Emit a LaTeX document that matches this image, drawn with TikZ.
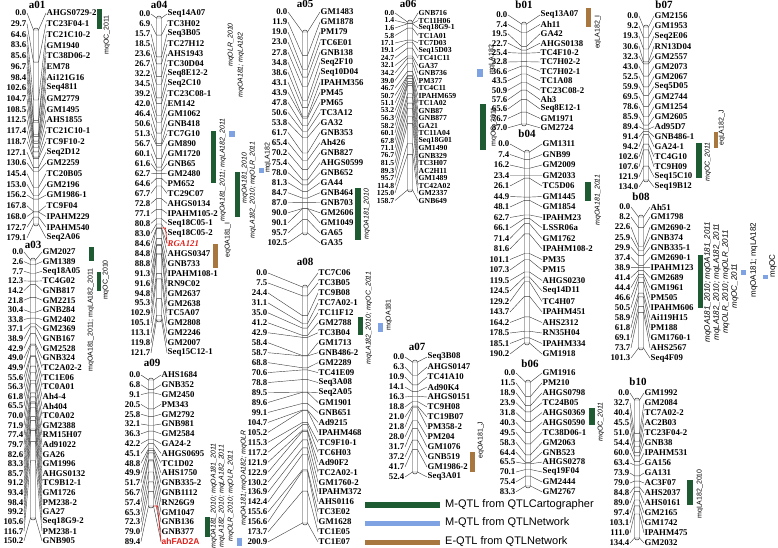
\documentclass[tikz,border=0pt]{standalone}
\usepackage{fontspec}
\setmainfont{Liberation Serif}
\newfontfamily\qsans{Liberation Sans}
\definecolor{qgreen}{HTML}{1E5B32}
\definecolor{qblue}{HTML}{7FA2E2}
\definecolor{qbrown}{HTML}{A8773F}
\definecolor{fadred}{HTML}{E0201B}
\newcommand\labfont{\bfseries\fontsize{8.8}{8.8}\selectfont}
\newcommand\chrhw{2.5}
\newcommand\chrpmax{100}
\tikzset{
  poslab/.style={font=\labfont, inner sep=0.5pt, anchor=east},
  mklab/.style={font=\labfont, inner sep=0.5pt, anchor=west},
  conn/.style={draw=black!75, line width=0.42pt},
  barst/.style={draw=black!85, fill=white, line width=0.45pt, rounded corners=2.4pt},
  ttl/.style={font=\bfseries\fontsize{11}{11}\selectfont, inner sep=0pt},
  qit/.style={font=\qsans\itshape\fontsize{7}{7}\selectfont, rotate=90, inner sep=0pt},
  qup/.style={font=\qsans\fontsize{7}{7}\selectfont, rotate=90, inner sep=0pt},
  qitb/.style={font=\qsans\itshape\fontsize{8}{8}\selectfont, rotate=90, inner sep=0pt},
  qupb/.style={font=\qsans\fontsize{8}{8}\selectfont, rotate=90, inner sep=0pt},
  leg/.style={font=\qsans\fontsize{11}{11}\selectfont, inner sep=0pt, anchor=west},
}
% #1 id, #2 xr, #3 xb, #4 xn, #5 ytop, #6 dy, #7 bar top, #8 bar bottom, #9 list
\newcommand\drawchrom[9]{%
  \draw[barst] (#3-\chrhw,#7) rectangle (#3+\chrhw,#8);
  \foreach \pp/\nn [count=\ii from 0] in {#9} {
    \pgfmathsetmacro\cly{#5+\ii*#6}
    \pgfmathsetmacro\cby{#7+2+\pp/\chrpmax*(#8-#7-4)}
    \node[poslab] (#1p\ii) at (#2,\cly) {\pp};
    \node[mklab] (#1n\ii) at (#4,\cly) {\nn};
    \coordinate (#1l\ii) at (#3-\chrhw,\cby);
    \coordinate (#1r\ii) at (#3+\chrhw,\cby);
    \draw[conn] (#1p\ii.east) -- (#1l\ii) -- (#1r\ii) -- (#1n\ii.west);
  }
}
\begin{document}
\begin{tikzpicture}[x=1pt,y=-1pt]
\useasboundingbox (0,0) rectangle (778,548);

% ---------- a01
\node[ttl] (a01t) at (37,5) {a01};
\renewcommand\chrpmax{179.1}
\drawchrom{a01}{27}{36}{46}{13}{10.71}{28}{226}{0.0/AHGS0729-2, 29.7/TC23F04-1, 64.6/TC21C10-2, 83.6/GM1940, 85.6/TC38D06-2, 96.7/EM78, 98.4/Ai121G16, 102.6/Seq4811, 104.7/GM2779, 108.5/GM1495, 112.5/AHS1855, 117.4/TC21C10-1, 118.7/TC9F10-2, 127.1/Seq2D12, 130.6/GM2259, 145.4/TC20B05, 153.0/GM2196, 156.2/GM1986-1, 167.8/TC9F04, 168.0/IPAHM229, 172.7/IPAHM540, 179.1/Seq2A06}

% ---------- a03
\node[ttl] (a03t) at (33,245) {a03};
\renewcommand\chrpmax{150.2}
\drawchrom{a03}{24}{33}{42}{252}{9.63}{258}{520}{0.0/GM2027, 2.6/GM1389, 7.7/Seq18A05, 12.3/TC4G02, 14.2/GNB817, 21.8/GM2215, 30.4/GNB284, 33.8/GM2402, 37.1/GM2369, 38.9/GNB167, 42.9/GM2528, 49.0/GNB324, 49.9/TC2A02-2, 55.6/TC1E06, 56.3/TC0A01, 61.8/Ah4-4, 65.5/Ah404, 70.0/TC0A02, 71.9/GM2388, 77.4/RM15H07, 79.7/Ad91022, 82.6/GA26, 83.3/GM1996, 85.7/AHGS0132, 91.2/TC9B12-1, 93.4/GM1726, 98.4/PM238-2, 99.2/GA27, 105.6/Seq18G9-2, 116.7/PM238-1, 150.2/GNB905}

% ---------- a04
\node[ttl] (a04t) at (159,5) {a04};
\renewcommand\chrpmax{121.7}
\drawchrom{a04}{151}{159}{167}{14}{9.97}{16}{322}{0.0/Seq14A07, 6.9/TC3H02, 15.7/Seq3B05, 18.5/TC27H12, 23.6/AHS1943, 26.7/TC30D04, 32.2/Seq8E12-2, 34.5/Seq2C10, 39.2/TC23C08-1, 42.0/EM142, 46.4/GM1062, 50.6/GNB418, 51.3/TC7G10, 56.7/GM890, 60.1/GM1720, 61.6/GNB65, 62.7/GM2480, 64.6/PM652, 67.7/TC29C07, 72.8/AHGS0134, 77.1/IPAHM105-2, 80.8/Seq18C05-1, 83.0/Seq18C05-2, 84.6/{}, 84.8/AHGS0347, 88.8/GNB733, 91.3/IPAHM108-1, 91.6/RN9C02, 94.8/GM2637, 95.3/GM2638, 102.9/TC5A07, 105.1/GM2808, 113.1/GM2246, 119.8/GM2007, 121.7/Seq15C12-1}
\node[mklab, text=fadred, font=\bfseries\itshape\fontsize{8.8}{8.8}\selectfont] (rga) at (a04n23.west) {RGA121};
\draw[fadred, line width=0.7pt] (a04r23) -- ++(4,0) -- (rga.west);

% ---------- a09
\node[ttl] (a09t) at (152,363) {a09};
\renewcommand\chrpmax{89.4}
\drawchrom{a09}{141}{151}{161}{375}{9.8}{378}{508}{0.0/AHS1684, 6.8/GNB352, 9.1/GM2450, 20.5/PM343, 25.8/GM2792, 32.1/GNB981, 36.3/GM2584, 42.2/GA24-2, 45.1/AHGS0695, 48.8/TC1D02, 49.9/AHS1750, 51.7/GNB335-2, 56.7/GNB1112, 57.4/RN26G9, 65.3/GM1047, 72.3/GNB136, 79.0/GNB377, 89.4/{}}
\node[mklab, text=fadred, font=\qsans\bfseries\fontsize{8.5}{8.5}\selectfont] (fad) at (a09n17.west) {ahFAD2A};
\draw[fadred, line width=0.7pt] (a09r17) -- ++(4,0) -- (fad.west);

% ---------- a05
\node[ttl] (a05t) at (305,4) {a05};
\renewcommand\chrpmax{102.5}
\drawchrom{a05}{288}{305}{320}{12}{10.04}{30}{235}{0.0/GM1483, 11.9/GM1878, 19.0/PM179, 23.0/TC6E01, 27.8/GNB138, 34.8/Seq2F10, 38.6/Seq10D04, 43.1/IPAHM356, 43.9/PM45, 47.8/PM65, 50.6/TC3A12, 53.8/GA32, 61.7/GNB353, 65.4/Ah426, 70.2/GNB827, 75.4/AHGS0599, 78.0/GNB652, 81.3/GA44, 84.7/GNB464, 87.0/GNB703, 90.0/GM2606, 90.1/GM1049, 95.7/GA65, 102.5/GA35}

% ---------- a08
\node[ttl] (a08t) at (305,262) {a08};
\renewcommand\chrpmax{200.9}
\drawchrom{a08}{268}{305}{318}{273}{9.96}{285}{525}{0.0/TC7C06, 7.5/TC3B05, 24.4/TC9B08, 31.1/TC7A02-1, 35.0/TC11F12, 41.2/GM2788, 42.9/TC3B04, 58.4/GM1713, 58.7/GNB486-2, 68.8/GM2289, 70.6/TC41E09, 78.8/Seq3A08, 89.5/Seq2A05, 89.6/GM1901, 99.1/GNB651, 104.7/Ad9215, 105.2/IPAHM468, 115.3/TC9F10-1, 117.2/TC6H03, 121.9/Ad90F2, 122.9/TC2A02-1, 130.2/GM1760-2, 136.9/IPAHM372, 142.4/AHS0116, 155.6/TC3E02, 156.6/GM1628, 173.7/TC1E05, 200.9/TC1E07}

% ---------- a06
\renewcommand\labfont{\bfseries\fontsize{7.7}{7.7}\selectfont}
\node[ttl] (a06t) at (408,4) {a06};
\renewcommand\chrpmax{158.7}
\drawchrom{a06}{395}{410}{418}{13}{7.5}{20}{192}{0.0/GNB716, 1.4/TC11H06, 1.6/Seq18G9-1, 5.8/TC1A01, 17.1/TC7D03, 19.1/Seq15D03, 24.7/TC41C11, 32.1/GA37, 34.2/GNB736, 39.0/PM377, 46.7/TC4C11, 50.7/IPAHM659, 51.1/TC1A02, 53.2/GNB87, 56.3/GNB877, 58.2/GA21, 60.1/TC11A04, 67.8/Seq18G01, 71.1/GM1490, 76.7/GNB329, 81.5/TC3H07, 89.3/AC2H11, 95.7/GM1489, 114.8/TC42A02, 125.0/GM2337, 158.7/GNB649}
\renewcommand\labfont{\bfseries\fontsize{8.8}{8.8}\selectfont}

% ---------- a07
\node[ttl] (a07t) at (417,347) {a07};
\renewcommand\chrpmax{52.4}
\drawchrom{a07}{405}{415}{427}{357}{10.0}{360}{474}{0.0/Seq3B08, 6.3/AHGS0147, 10.9/TC41A10, 14.1/Ad90K4, 16.3/AHGS0151, 18.8/TC9H08, 21.0/TC19B07, 21.8/PM358-2, 28.0/PM204, 31.7/GM1076, 37.2/GNB519, 41.7/GM1986-2, 52.4/Seq3A01}

% ---------- b01
\node[ttl] (b01t) at (524,5) {b01};
\renewcommand\chrpmax{87.0}
\drawchrom{b01}{508}{524}{540}{15}{9.4}{22}{126}{0.0/Seq13A07, 7.4/Ah11, 19.5/GA42, 22.7/AHGS0138, 25.4/TC4F10-2, 32.8/TC7H02-2, 36.6/TC7H02-1, 43.5/TC1A08, 50.9/TC23C08-2, 57.6/Ah3, 65.6/Seq8E12-1, 76.7/GM1971, 87.0/GM2724}

% ---------- b04
\node[ttl] (b04t) at (527,134) {b04};
\renewcommand\chrpmax{190.2}
\drawchrom{b04}{510}{527}{542}{144}{10.5}{150}{345}{0.0/GM1311, 7.4/GNB99, 16.2/GM2009, 23.4/GM2033, 26.1/TC5D06, 44.9/GM1445, 48.1/GM1854, 62.7/IPAHM23, 66.1/LSSR06a, 71.4/GM1762, 81.6/IPAHM108-2, 101.1/PM35, 107.3/PM15, 119.5/AHGS0230, 124.5/Seq14D11, 129.2/TC4H07, 143.7/IPAHM451, 164.2/AHS2312, 178.5/RN35H04, 185.1/IPAHM334, 190.2/GM1918}

% ---------- b06
\node[ttl] (b06t) at (530,364) {b06};
\renewcommand\chrpmax{83.3}
\drawchrom{b06}{516}{528}{542}{373}{9.9}{380}{488}{0.0/GM1916, 11.5/PM210, 18.9/AHGS0798, 23.9/TC24B05, 31.8/AHGS0369, 40.3/AHGS0590, 49.5/TC38D06-1, 58.3/GM2063, 64.4/GNB523, 65.5/AHGS0278, 70.1/Seq19F04, 75.4/GM2444, 83.3/GM2767}

% ---------- b07
\node[ttl] (b07t) at (664,5) {b07};
\renewcommand\chrpmax{134.0}
\drawchrom{b07}{639}{646}{654}{16}{10.06}{25}{182}{0.0/GM2156, 9.2/GM1953, 19.3/Seq2E06, 30.6/RN13D04, 32.3/GM2557, 43.0/GM2073, 52.5/GM2067, 59.9/Seq5D05, 69.5/GM2744, 78.6/GM1254, 85.9/GM2605, 89.4/Ad95D7, 91.4/GNB486-1, 94.2/GA24-1, 102.6/TC4G10, 107.6/TC9H09, 121.9/Seq15C10, 134.0/Seq19B12}

% ---------- b08
\node[ttl] (b08t) at (641,197) {b08};
\renewcommand\chrpmax{101.3}
\drawchrom{b08}{631}{641}{650}{207}{10.07}{215}{350}{0.0/Ah51, 8.2/GM1798, 22.6/GM2690-2, 25.9/GNB374, 29.9/GNB335-1, 37.4/GM2690-1, 38.9/IPAHM123, 41.4/GM2689, 44.4/GM1961, 46.6/PM505, 50.5/IPAHM606, 58.9/Ai119H15, 61.8/PM188, 69.1/GM1760-1, 73.7/AHS2567, 101.3/Seq4F09}

% ---------- b10
\node[ttl] (b10t) at (638,382) {b10};
\renewcommand\chrpmax{134.4}
\drawchrom{b10}{630}{637}{644}{393}{10.0}{398}{540}{0.0/GM1992, 32.7/GM2084, 40.4/TC7A02-2, 45.5/AC2B03, 51.0/TC23F04-2, 54.4/GNB38, 60.0/IPAHM531, 63.4/GA156, 73.9/GA131, 79.0/AC3F07, 84.8/AHS2037, 89.0/AHS0161, 97.4/GM2165, 103.1/GM1742, 111.0/IPAHM475, 134.4/GM2032}

% ================= QTL bars and labels
% a01
\fill[qgreen] (97,9) rectangle (102,29);
\node[qup] (q01) at (107,35) {mqOC\_2011};
% a03
\fill[qgreen] (89,247) rectangle (94,261);
\node[qup] (q02) at (91,320) {mqOA181\_2011; mqLA182\_2011};
\fill[qgreen] (97,272) rectangle (101,291);
\node[qup] (q03) at (106,280) {mqOC\_2010};
% a04
\node[qit] (q04) at (231,45) {mqOLR\_2010};
\fill[qgreen] (211,131) rectangle (216,183);
\node[qit] (q05) at (223,170) {mqOA181\_2011; mqLA182\_2011};
\fill[qblue] (229,131) rectangle (235,137);
\node[qit] (q06) at (241,65) {mqOA181; mqLA182};
\fill[qbrown] (213,244) rectangle (218,268);
\node[qup] (q07) at (228,240) {eqOA181\_I};
\fill[qgreen] (235,172) rectangle (240,217);
\node[qit] (q08) at (245,178) {mqOA181\_2010};
\node[qit] (q09) at (253,190) {mqLA182\_2010; mqOLR\_2011};
\fill[qblue] (259,168) rectangle (264,173);
\node[qup] (q10) at (268,158) {mqLA182};
% a09
\fill[qgreen] (205,517) rectangle (210,537);
\node[qit] (q11) at (214,496) {mqOA181\_2010; mqOA181\_2011};
\node[qit] (q12) at (222,496) {mqLA182\_2010; mqLA182\_2011};
\node[qit] (q13) at (231,496) {mqOLR\_2010; mqOLR\_2011};
\fill[qblue] (237,538) rectangle (242,546);
\node[qit] (q14) at (244,478) {mqOA181; mqOA182; mqOLR};
% a05
\fill[qgreen] (355,188) rectangle (361,240);
\node[qit] (q15) at (367,214) {mqOA181\_2010};
% a08
\fill[qgreen] (358,317) rectangle (363,335);
\node[qit] (q16) at (369,318) {mqLA182\_2010; mqOC\_2011};
\fill[qblue] (378,323) rectangle (383,332);
\node[qup] (q17) at (389,315) {mqOA181};
% a06
\fill[qblue] (477,69) rectangle (483,77);
\node[qup] (q18) at (492,60) {mqLA182};
\fill[qgreen] (480,104) rectangle (486,150);
\node[qup] (q19) at (494,127) {mqOC\_2011};
% a07
\fill[qbrown] (470,452) rectangle (475,472);
\node[qup] (q20) at (481,440) {eqOA181\_J};
% b01
\fill[qbrown] (586,8) rectangle (591,27);
\node[qup] (q21) at (598,32) {eqLA182\_I};
% b04
\fill[qgreen] (585,182) rectangle (591,201);
\node[qit] (q22) at (598,200) {mqOA181\_2011};
% b06
\fill[qgreen] (589,408) rectangle (595,425);
\node[qit] (q23) at (601,422) {mqOC\_2011};
% b07
\fill[qgreen] (696,143) rectangle (702,178);
\node[qit] (q24) at (708,162) {mqOC\_2011};
\fill[qbrown] (714,132) rectangle (718,148);
\node[qup] (q25) at (722,128) {eqLA182\_J};
% b08
\fill[qgreen] (698,255) rectangle (703,308);
\node[qitb] (q26) at (708,282) {mqOA181\_2010; mqOA181\_2011};
\node[qitb] (q27) at (717,282) {mqLA182\_2010; mqLA182\_2011};
\node[qitb] (q28) at (726,282) {mqOLR\_2010; mqOLR\_2011};
\node[qitb] (q29) at (735,286) {mqOC\_2011};
\fill[qblue] (741,270) rectangle (746,275);
\node[qupb] (q30) at (754,260) {mqOA181; mqLA182};
\fill[qblue] (763,275) rectangle (768,279);
\node[qupb] (q31) at (773,266) {mqOC};
% b10
\fill[qgreen] (687,480) rectangle (693,505);
\node[qup] (q32) at (700,494) {mqLA182\_2010};

% ================= legend
\fill[qgreen] (365,502) rectangle (440,508);
\node[leg] (lg1) at (445,505) {M-QTL from QTLCartographer};
\fill[qblue] (365,521) rectangle (440,526);
\node[leg] (lg2) at (445,523) {M-QTL from QTLNetwork};
\fill[qbrown] (365,540) rectangle (440,545);
\node[leg] (lg3) at (445,542) {E-QTL from QTLNetwork};
\end{tikzpicture}
\end{document}
